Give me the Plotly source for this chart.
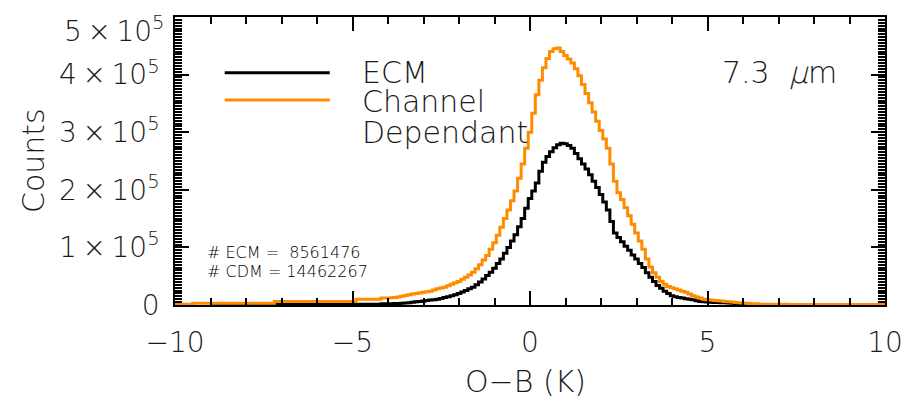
import plotly.graph_objects as go

# O-B histogram bin centres (K): wide steps in the tails, 0.1 K bins in the core
core_x = [-4.0, -3.9, -3.8, -3.7, -3.6, -3.5, -3.4, -3.3, -3.2, -3.1,
          -3.0, -2.9, -2.8, -2.7, -2.6, -2.5, -2.4, -2.3, -2.2, -2.1,
          -2.0, -1.9, -1.8, -1.7, -1.6, -1.5, -1.4, -1.3, -1.2, -1.1,
          -1.0, -0.9, -0.8, -0.7, -0.6, -0.5, -0.4, -0.3, -0.2, -0.1,
          0.0, 0.1, 0.2, 0.3, 0.4, 0.5, 0.6, 0.7, 0.8, 0.9,
          1.0, 1.1, 1.2, 1.3, 1.4, 1.5, 1.6, 1.7, 1.8, 1.9,
          2.0, 2.1, 2.2, 2.3, 2.4, 2.5, 2.6, 2.7, 2.8, 2.9,
          3.0, 3.1, 3.2, 3.3, 3.4, 3.5, 3.6, 3.7, 3.8, 3.9,
          4.0, 4.1, 4.2, 4.3, 4.4, 4.5, 4.6, 4.7, 4.8, 4.9,
          5.0, 5.1, 5.2, 5.3, 5.4, 5.5, 5.6, 5.7, 5.8, 5.9,
          6.0, 6.1, 6.2, 6.3]

# Channel dependant (CDM) counts
cdm_x = [-10.0, -9.0, -5.4, -4.4] + core_x + [6.4, 6.5, 8.0, 10.0]
cdm_y = [1500, 3200, 6000, 10000,
         12000, 12500, 13000, 14000, 15000, 16500, 18000, 19000, 20000, 21000,
         22000, 23000, 24000, 26000, 28000, 29500, 31000, 33500, 36000, 38500,
         41000, 44500, 48000, 52000, 57000, 63000, 70000, 78000, 86000, 97000,
         108000, 121000, 135000, 150000, 165000, 181000, 198000, 220000, 245000, 272000,
         300000, 333000, 365000, 390000, 412000, 428000, 440000, 445000, 446000, 440000,
         433000, 427000, 420000, 410000, 398000, 383000, 367000, 351000, 335000, 319000,
         303000, 288000, 272000, 245000, 215000, 195000, 183000, 169000, 155000, 140000,
         125000, 111000, 97000, 80000, 66000, 56000, 48000, 41000, 36000, 32000,
         30000, 28000, 26000, 24000, 22000, 19000, 16000, 14000, 12000, 10000,
         9000, 8500, 8000, 7500, 7000, 6000, 5500, 5000, 4500, 4000,
         3500, 3000, 2500, 2200,
         2000, 1500, 800, 800]

# ECM counts
ecm_x = [-9.0, -4.4] + core_x + [6.35]
ecm_y = [1000, 1500,
         2000, 2200, 2500, 2700, 3000, 3500, 4000, 4700, 5500, 6200,
         7000, 7700, 8500, 9200, 10000, 11500, 13000, 14500, 16000, 18000,
         20000, 22500, 25000, 28000, 31000, 35000, 40000, 45000, 51000, 57000,
         64000, 72000, 80000, 90000, 100000, 111000, 122000, 136000, 150000, 168000,
         185000, 198000, 212000, 232000, 248000, 258000, 266000, 273000, 278000, 281000,
         280000, 277000, 272000, 263000, 254000, 245000, 236000, 226000, 215000, 204000,
         192000, 179000, 165000, 145000, 125000, 117000, 110000, 102000, 95000, 87000,
         80000, 72000, 65000, 56000, 48000, 41000, 34000, 29000, 24000, 20000,
         16000, 14500, 13000, 12000, 11000, 10000, 9000, 7500, 6000, 5500,
         5000, 4700, 4500, 4200, 4000, 3700, 3500, 3000, 2500, 2000,
         1500, 1200, 1000, 600,
         0]

x_tick_vals = [-10, -5, 0, 5, 10]
x_tick_text = ["\u221210", "\u22125", "0", "5", "10"]
y_tick_vals = [0, 100000, 200000, 300000, 400000, 500000]
y_tick_text = ["0", "1\u2009\u00d7\u200910<sup>5</sup>", "2\u2009\u00d7\u200910<sup>5</sup>",
               "3\u2009\u00d7\u200910<sup>5</sup>", "4\u2009\u00d7\u200910<sup>5</sup>",
               "5\u2009\u00d7\u200910<sup>5</sup>"]

n_ecm = 8561476
n_cdm = 14462267

ORANGE = "#ff8c00"
FONT = "DejaVu Sans ExtraLight, DejaVu Sans Light, Lato"
INK = "#1a1a1a"

fig = go.Figure()
fig.add_trace(go.Scatter(x=ecm_x, y=ecm_y, mode="lines", line_shape="hvh",
                         line=dict(color="black", width=3), name="ECM"))
fig.add_trace(go.Scatter(x=cdm_x, y=cdm_y, mode="lines", line_shape="hvh",
                         line=dict(color=ORANGE, width=3), name="Channel Dependant"))

axis_common = dict(
    showline=True, linecolor="black", linewidth=1.5, mirror="ticks",
    ticks="inside", tickcolor="black", tickwidth=1.5, ticklen=14,
    showgrid=False, zeroline=False, automargin=False,
    tickfont=dict(family=FONT, size=28, color=INK, weight=300),
)
fig.update_xaxes(range=[-10, 10], tickvals=x_tick_vals, ticktext=x_tick_text,
                 minor=dict(ticks="inside", dtick=1, ticklen=7, tickwidth=1.5,
                            tickcolor="black"),
                 ticklabelstandoff=12, **axis_common)
# the top label is placed separately, just below its tick
fig.update_yaxes(range=[0, 500000], tickvals=y_tick_vals,
                 ticktext=y_tick_text[:-1] + [""],
                 minor=dict(ticks="inside", dtick=5000, ticklen=7, tickwidth=1.5,
                            tickcolor="black"),
                 ticklabelstandoff=8, **axis_common)
fig.add_annotation(x=-0.0113, y=0.958, xref="paper", yref="paper", text=y_tick_text[-1],
                   showarrow=False, xanchor="right", yanchor="middle",
                   font=dict(family=FONT, size=28, color=INK, weight=300))

# hand-placed legend (paper coordinates)
fig.add_shape(type="line", xref="paper", yref="paper", x0=0.070, x1=0.218,
              y0=0.806, y1=0.806, line=dict(color="black", width=3))
fig.add_shape(type="line", xref="paper", yref="paper", x0=0.070, x1=0.218,
              y0=0.712, y1=0.712, line=dict(color=ORANGE, width=3))

txt = dict(family=FONT, size=30, color=INK, weight=300)
small = dict(family=FONT, size=16, color="black", weight=400)
ann = [
    dict(x=0.260, y=0.806, text="ECM", font=txt),
    dict(x=0.260, y=0.708, text="Channel", font=txt),
    dict(x=0.260, y=0.600, text="Dependant", font=txt),
    dict(x=0.768, y=0.806, text="7.3&nbsp; <i>\u03bc</i>m", font=txt),
    dict(x=0.042, y=0.184, text=f"# ECM = &nbsp;{n_ecm}", font=small),
    dict(x=0.042, y=0.118, text=f"# CDM = {n_cdm}", font=small),
]
for a in ann:
    fig.add_annotation(xref="paper", yref="paper", showarrow=False,
                       xanchor="left", yanchor="middle", **a)

# axis titles
fig.add_annotation(x=-0.200, y=0.50, xref="paper", yref="paper", text="Counts",
                   textangle=-90, showarrow=False, xanchor="center", yanchor="middle",
                   font=txt)
fig.add_annotation(x=0.493, y=-0.264, xref="paper", yref="paper", text="O\u2212B (K)",
                   showarrow=False, xanchor="center", yanchor="middle", font=txt)

fig.update_layout(
    width=910, height=405,
    margin=dict(l=175, r=25, t=17, b=100, autoexpand=False),
    plot_bgcolor="white", paper_bgcolor="white",
    showlegend=False,
)

fig.write_html("out.html")
